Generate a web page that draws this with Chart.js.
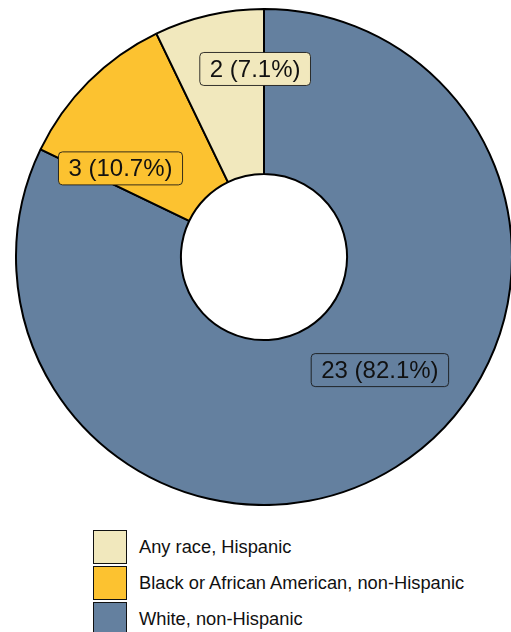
<!DOCTYPE html>
<html>
<head>
<meta charset="utf-8">
<script src="https://cdn.jsdelivr.net/npm/chart.js@4/dist/chart.umd.min.js"></script>
<style>
  html, body { margin: 0; padding: 0; background: #fff; overflow: hidden; width: 511px; height: 632px; }
  #wrap { position: absolute; left: 0; top: 0; width: 528px; height: 506px; }
  #legend { position: absolute; left: 93px; top: 529px; font-family: "Liberation Sans", Arial, sans-serif; font-size: 18.3px; color: #111; }
  .item { display: flex; align-items: center; height: 36px; }
  .box { width: 34px; height: 34px; box-sizing: border-box; border: 1.5px solid #111; margin-right: 12px; }
</style>
</head>
<body>
<div id="wrap"><canvas id="c"></canvas></div>
<div id="legend"></div>
<script>
// Race / ethnicity counts, in clockwise order from 12 o'clock
const categories = ["White, non-Hispanic", "Black or African American, non-Hispanic", "Any race, Hispanic"];
const counts = [23, 3, 2];
const colors = ["#64809f", "#fcc230", "#f1e8bd"];

// Where each value box sits: angle (deg, clockwise from top) and fraction of the outer radius
const labelPlacement = [
  { angle: 134.3, r: 0.653 },
  { angle: -58.3, r: 0.68 },
  { angle: -2.7, r: 0.759 }
];

const total = counts.reduce((a, b) => a + b, 0);

function roundRect(ctx, x, y, w, h, rad) {
  ctx.beginPath();
  ctx.moveTo(x + rad, y);
  ctx.lineTo(x + w - rad, y);
  ctx.arcTo(x + w, y, x + w, y + rad, rad);
  ctx.lineTo(x + w, y + h - rad);
  ctx.arcTo(x + w, y + h, x + w - rad, y + h, rad);
  ctx.lineTo(x + rad, y + h);
  ctx.arcTo(x, y + h, x, y + h - rad, rad);
  ctx.lineTo(x, y + rad);
  ctx.arcTo(x, y, x + rad, y, rad);
  ctx.closePath();
}

const valueLabels = {
  id: "valueLabels",
  afterDatasetsDraw(chart) {
    const ctx = chart.ctx;
    const meta = chart.getDatasetMeta(0);
    const data = chart.data.datasets[0].data;
    ctx.save();
    ctx.font = '24px "Liberation Sans", Arial, sans-serif';
    ctx.textAlign = "center";
    ctx.textBaseline = "middle";
    meta.data.forEach((arc, i) => {
      const p = labelPlacement[i];
      const a = (p.angle - 90) * Math.PI / 180;
      const cx = arc.x + Math.cos(a) * arc.outerRadius * p.r;
      const cy = arc.y + Math.sin(a) * arc.outerRadius * p.r;
      const txt = data[i] + " (" + (data[i] / total * 100).toFixed(1) + "%)";
      const w = ctx.measureText(txt).width + 20;
      const h = 33;
      roundRect(ctx, cx - w / 2, cy - h / 2, w, h, 4);
      ctx.fillStyle = colors[i];
      ctx.fill();
      ctx.lineWidth = 1;
      ctx.strokeStyle = "rgba(20,20,20,0.85)";
      ctx.stroke();
      ctx.fillStyle = "#111";
      ctx.fillText(txt, cx, cy + 1);
    });
    ctx.restore();
  }
};

const chart = new Chart(document.getElementById("c"), {
  type: "doughnut",
  data: {
    labels: categories,
    datasets: [{
      data: counts,
      backgroundColor: colors,
      borderColor: "#000",
      borderWidth: 2
    }]
  },
  options: {
    responsive: true,
    maintainAspectRatio: false,
    animation: false,
    cutout: "33.5%",
    layout: { padding: { top: 8, left: 0, right: 0, bottom: 0 } },
    plugins: {
      legend: { display: false },
      tooltip: { enabled: false }
    }
  },
  plugins: [valueLabels]
});

// Legend listed in reverse (Hispanic first)
const legendEl = document.getElementById("legend");
chart.options.plugins.legend.labels.generateLabels(chart).slice().reverse().forEach(item => {
  const row = document.createElement("div");
  row.className = "item";
  const box = document.createElement("div");
  box.className = "box";
  box.style.background = item.fillStyle;
  const label = document.createElement("span");
  label.textContent = item.text;
  row.appendChild(box);
  row.appendChild(label);
  legendEl.appendChild(row);
});
</script>
</body>
</html>
